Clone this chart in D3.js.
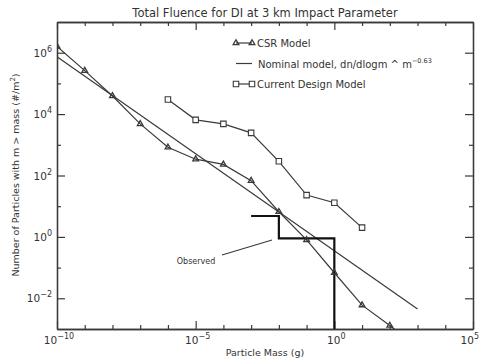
<!DOCTYPE html>
<html>
<head>
<meta charset="utf-8">
<script src="https://cdn.jsdelivr.net/npm/d3@7"></script>
<style>
  body { margin: 0; background: #fff; }
  text { font-family: "DejaVu Sans", sans-serif; fill: #333; }
</style>
</head>
<body>
<svg id="chart" width="480" height="361"></svg>
<script>
// CSR model (triangles), one point per decade of mass
const csrMass = [1e-10, 1e-9, 1e-8, 1e-7, 1e-6, 1e-5, 1e-4, 1e-3, 1e-2, 1e-1, 1e0, 1e1, 1e2, 1e3];
const csrN = [1.6e6, 2.6e5, 3.9e4, 4.8e3, 8.3e2, 3.4e2, 2.3e2, 68, 6.6, 0.8, 0.068, 0.006, 0.0013, 0.00025];

// Current design model (squares)
const designMass = [1e-6, 1e-5, 1e-4, 1e-3, 1e-2, 1e-1, 1e0, 1e1];
const designN = [3.0e4, 6.5e3, 4.8e3, 2.45e3, 2.9e2, 23, 13, 2.0];

// Nominal model, straight line in log-log (slope -0.63)
const nominalMass = [1e-10, 1e3];
const nominalN = [7.4e5, 4.5e-3];

// Observed step curve
const observedMass = [1e-3, 1e-2, 1e0, 1e0];
const observedN = [4.8, 0.9, 0.9, 1e-4];

const xMajor = [1e-10, 1e-5, 1e0, 1e5];
const xMajorExp = ["-10", "-5", "0", "5"];
const xMinor = [1e-9, 1e-8, 1e-7, 1e-6, 1e-4, 1e-3, 1e-2, 1e-1, 1e1, 1e2, 1e3, 1e4];
const yMajor = [1e-2, 1e0, 1e2, 1e4, 1e6];
const yMajorExp = ["-2", "0", "2", "4", "6"];
const yMinor = [1e-1, 1e1, 1e3, 1e5];

const svg = d3.select("#chart");
const pLeft = 57, pRight = 473, pTop = 22, pBottom = 329;
const ink = "#3a3a3a";

const x = d3.scaleLog().domain([1e-10, 1e5]).range([pLeft, pRight]);
const y = d3.scaleLog().domain([1e-3, 1e7]).range([pBottom, pTop]);

svg.append("defs").append("clipPath").attr("id", "plot")
  .append("rect").attr("x", pLeft).attr("y", pTop)
  .attr("width", pRight - pLeft).attr("height", pBottom - pTop);

// axes, ticks pointing inward
function tickAxis(axis, vals, size, transform) {
  svg.append("g")
    .attr("transform", transform)
    .call(axis.tickValues(vals).tickSizeInner(-size).tickSizeOuter(0).tickFormat(""))
    .call(g => g.select(".domain").attr("stroke", ink).attr("stroke-width", 1.3))
    .call(g => g.selectAll("line").attr("stroke", ink).attr("stroke-width", 1.2));
}
tickAxis(d3.axisBottom(x), xMajor, 8, `translate(0,${pBottom})`);
tickAxis(d3.axisBottom(x), xMinor, 4, `translate(0,${pBottom})`);
tickAxis(d3.axisTop(x), xMajor, 8, `translate(0,${pTop})`);
tickAxis(d3.axisTop(x), xMinor, 4, `translate(0,${pTop})`);
tickAxis(d3.axisLeft(y), yMajor, 8, `translate(${pLeft},0)`);
tickAxis(d3.axisLeft(y), yMinor, 4, `translate(${pLeft},0)`);
tickAxis(d3.axisRight(y), yMajor, 8, `translate(${pRight},0)`);
tickAxis(d3.axisRight(y), yMinor, 4, `translate(${pRight},0)`);

// tick labels with superscripts (last one pulled inside the window)
xMajor.forEach((v, i) => {
  const last = i === xMajor.length - 1;
  const t = svg.append("text").attr("x", last ? 479 : x(v) + 2).attr("y", pBottom + 15)
    .attr("text-anchor", last ? "end" : "middle").attr("font-size", 10.5);
  t.append("tspan").text("10");
  t.append("tspan").attr("dy", -5).attr("font-size", 8).text(xMajorExp[i].replace("-", "\u2212"));
});
yMajor.forEach((v, i) => {
  const t = svg.append("text").attr("x", pLeft - 5).attr("y", y(v) + 4)
    .attr("text-anchor", "end").attr("font-size", 10.5);
  t.append("tspan").text("10");
  t.append("tspan").attr("dy", -5).attr("font-size", 8).text(yMajorExp[i].replace("-", "\u2212"));
});

// title and axis titles
svg.append("text").attr("x", 265).attr("y", 17).attr("text-anchor", "middle")
  .attr("font-size", 11.5).text("Total Fluence for DI at 3 km Impact Parameter");
svg.append("text").attr("x", 265).attr("y", 356).attr("text-anchor", "middle")
  .attr("font-size", 9.5).text("Particle Mass (g)");
const yl = svg.append("text").attr("transform", "translate(19,175) rotate(-90)")
  .attr("text-anchor", "middle").attr("font-size", 9.5);
yl.append("tspan").text("Number of Particles with m > mass (#/m");
yl.append("tspan").attr("dy", -4).attr("font-size", 7).text("2");
yl.append("tspan").attr("dy", 4).text(")");

const plot = svg.append("g").attr("clip-path", "url(#plot)");
const line = d3.line().x(d => x(d[0])).y(d => y(d[1]));

plot.append("path").datum(d3.zip(nominalMass, nominalN))
  .attr("d", line).attr("fill", "none").attr("stroke", ink).attr("stroke-width", 1.2);
plot.append("path").datum(d3.zip(csrMass, csrN))
  .attr("d", line).attr("fill", "none").attr("stroke", ink).attr("stroke-width", 1.2);
plot.append("path").datum(d3.zip(designMass, designN))
  .attr("d", line).attr("fill", "none").attr("stroke", ink).attr("stroke-width", 1.2);
plot.append("path").datum(d3.zip(observedMass, observedN))
  .attr("d", d3.line().x(d => x(d[0])).y(d => y(d[1])).curve(d3.curveStepAfter))
  .attr("fill", "none").attr("stroke", "#111").attr("stroke-width", 2.2);

const tri = d3.symbol(d3.symbolTriangle, 14);
const sq = d3.symbol(d3.symbolSquare, 30);
plot.selectAll(".tri").data(d3.zip(csrMass, csrN)).join("path")
  .attr("transform", d => `translate(${x(d[0])},${y(d[1])})`)
  .attr("d", tri).attr("fill", "none").attr("stroke", ink).attr("stroke-width", 1.3);
plot.selectAll(".sq").data(d3.zip(designMass, designN)).join("path")
  .attr("transform", d => `translate(${x(d[0])},${y(d[1])})`)
  .attr("d", sq).attr("fill", "#fff").attr("stroke", ink).attr("stroke-width", 1.1);

// "Observed" annotation
svg.append("text").attr("x", 196).attr("y", 264).attr("text-anchor", "middle")
  .attr("font-size", 8).text("Observed");
svg.append("line").attr("x1", 222).attr("y1", 255).attr("x2", 272).attr("y2", 240)
  .attr("stroke", ink).attr("stroke-width", 1.2);

// legend
const lg = svg.append("g");
lg.append("line").attr("x1", 236).attr("x2", 252).attr("y1", 43).attr("y2", 43)
  .attr("stroke", ink).attr("stroke-width", 1.2);
[236, 252].forEach(px => lg.append("path").attr("transform", `translate(${px},43)`)
  .attr("d", tri).attr("fill", "none").attr("stroke", ink).attr("stroke-width", 1.3));
lg.append("text").attr("x", 257).attr("y", 47).attr("font-size", 10).text("CSR Model");

lg.append("line").attr("x1", 236).attr("x2", 252).attr("y1", 63.5).attr("y2", 63.5)
  .attr("stroke", ink).attr("stroke-width", 1.2);
const nt = lg.append("text").attr("x", 258).attr("y", 68).attr("font-size", 10);
nt.append("tspan").text("Nominal model, dn/dlogm ^ m");
nt.append("tspan").attr("dy", -5).attr("font-size", 6.5).text("\u22120.63");

lg.append("line").attr("x1", 236).attr("x2", 252).attr("y1", 84).attr("y2", 84)
  .attr("stroke", ink).attr("stroke-width", 1.2);
[236, 252].forEach(px => lg.append("path").attr("transform", `translate(${px},84)`)
  .attr("d", sq).attr("fill", "#fff").attr("stroke", ink).attr("stroke-width", 1.1));
lg.append("text").attr("x", 257).attr("y", 88).attr("font-size", 10).text("Current Design Model");
</script>
</body>
</html>
